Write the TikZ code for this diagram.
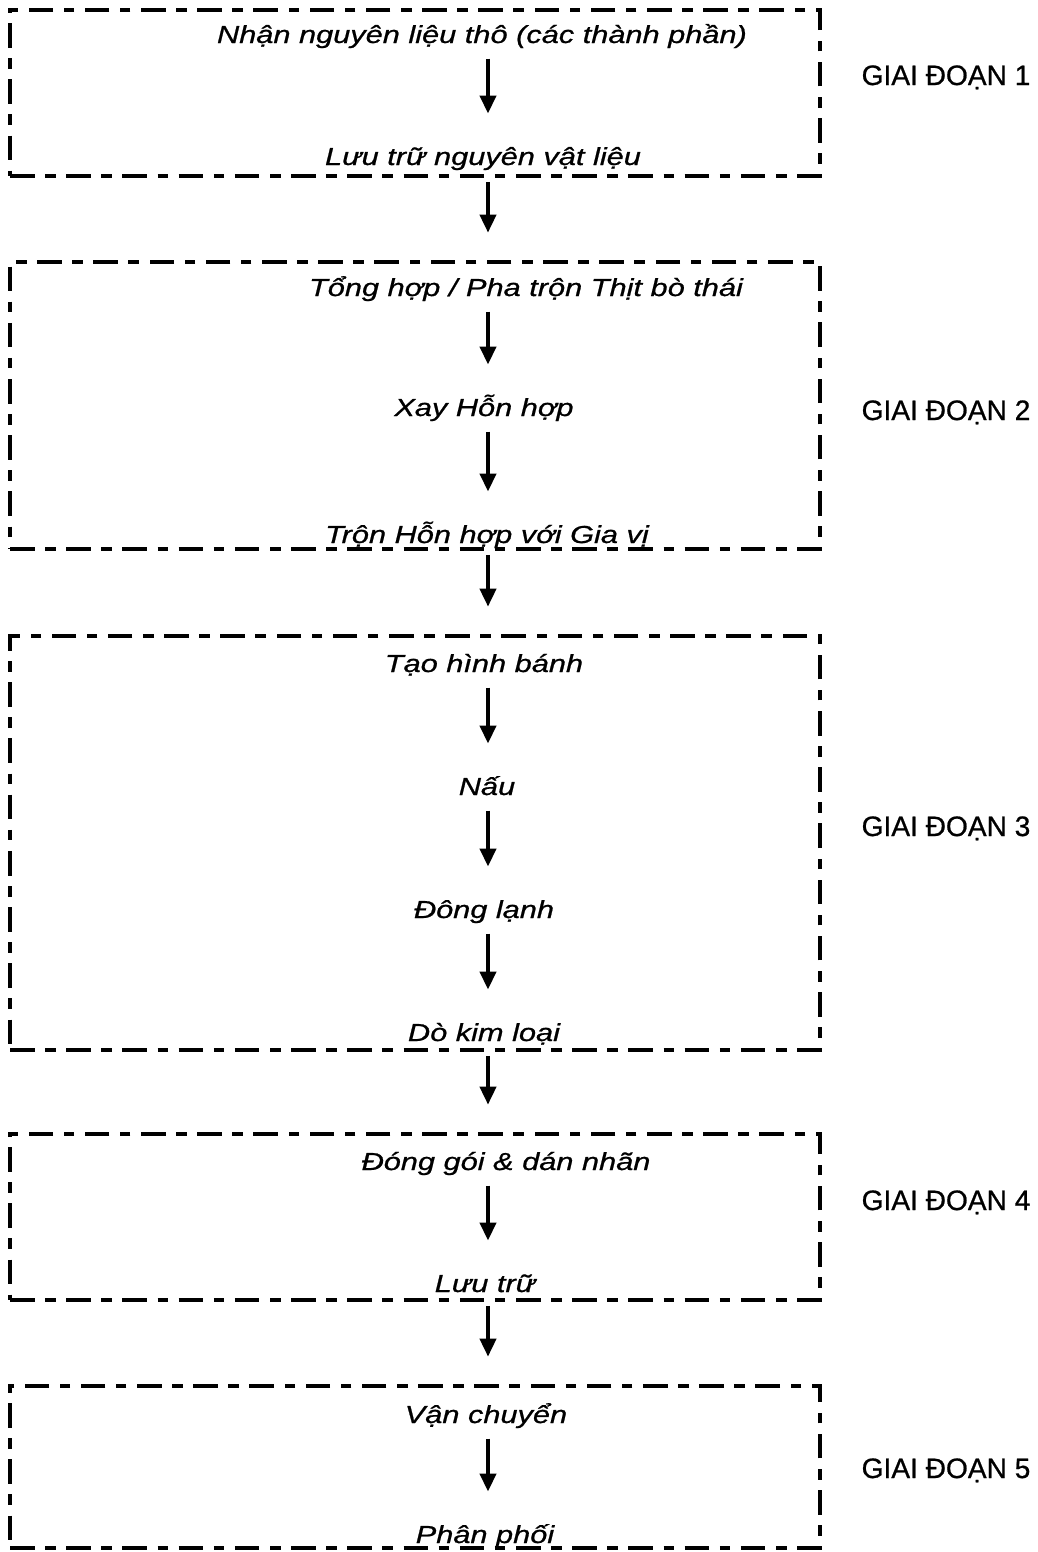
\documentclass[tikz,border=0pt]{standalone}
\usepackage{fontspec}
\setmainfont{Liberation Sans}
\newfontfamily\stepfont[FakeStretch=1.25, FakeBold=0.8]{Liberation Sans}
\newfontfamily\bandfont[FakeBold=0.8]{Liberation Sans}
\usepackage{tikz}
\usetikzlibrary{arrows.meta,positioning,fit}

\begin{document}
\begin{tikzpicture}[
  x=0.02cm, y=-0.02cm,
  stage/.style={rectangle, draw=black, line width=2.1pt, inner sep=0pt,
                dash pattern=on 14pt off 6pt on 6pt off 6pt},
  stepnode/.style={inner sep=0pt, anchor=base, text height=12pt, text depth=3pt,
                   font=\stepfont\itshape\fontsize{14}{16}\selectfont},
  band/.style={inner sep=0pt, anchor=base, font=\bandfont\fontsize{16}{19}\selectfont},
  a/.style={-{Triangle[length=0.36cm, width=0.32cm]}, line width=2.2pt,
            shorten <=0.2cm, shorten >=0.6cm},
  link/.style={a, shorten <=0.08cm, shorten >=0.55cm},
]
\useasboundingbox (0,0) rectangle (1038,1552);
\coordinate (col) at (488,0);

% ---- stage 1
\node[stepnode] (s11) at (482,43) {Nhận nguyên liệu thô (các thành phần)};
\node[stepnode] (s12) at (483,165) {Lưu trữ nguyên vật liệu};
\node[stage, fit={(10,10) (820,176)}] (g1) {};
\draw[a] (s11.south -| col) -- (s12.north -| col);

% ---- stage 2
\node[stepnode] (s21) at (526,296) {Tổng hợp / Pha trộn Thịt bò thái};
\node[stepnode] (s22) at (484,416) {Xay Hỗn hợp};
\node[stepnode] (s23) at (487,543) {Trộn Hỗn hợp với Gia vị};
\node[stage, fit={(10,262) (820,549)}] (g2) {};
\draw[a] (s21.south -| col) -- (s22.north -| col);
\draw[a] (s22.south -| col) -- (s23.north -| col);

% ---- stage 3
\node[stepnode] (s31) at (484,672) {Tạo hình bánh};
\node[stepnode] (s32) at (487,795) {Nấu};
\node[stepnode] (s33) at (484,918) {Đông lạnh};
\node[stepnode] (s34) at (484,1041) {Dò kim loại};
\node[stage, fit={(10,636) (820,1050)}] (g3) {};
\draw[a] (s31.south -| col) -- (s32.north -| col);
\draw[a] (s32.south -| col) -- (s33.north -| col);
\draw[a] (s33.south -| col) -- (s34.north -| col);

% ---- stage 4
\node[stepnode] (s41) at (506,1170) {Đóng gói \& dán nhãn};
\node[stepnode] (s42) at (485,1292) {Lưu trữ};
\node[stage, fit={(10,1134) (820,1300)}] (g4) {};
\draw[a] (s41.south -| col) -- (s42.north -| col);

% ---- stage 5
\node[stepnode] (s51) at (486,1423) {Vận chuyển};
\node[stepnode] (s52) at (485,1543) {Phân phối};
\node[stage, fit={(10,1386) (820,1548)}] (g5) {};
\draw[a] (s51.south -| col) -- (s52.north -| col);

% ---- from one stage to the next
\foreach \i/\j in {1/2, 2/3, 3/4, 4/5} {
  \draw[link] (g\i.south -| col) -- (g\j.north -| col);
}

% ---- stage labels
\foreach \k/\y in {1/85, 2/420, 3/836, 4/1210, 5/1478} {
  \node[band] (b\k) at (946,\y) {GIAI ĐOẠN \k};
}
\end{tikzpicture}
\end{document}
